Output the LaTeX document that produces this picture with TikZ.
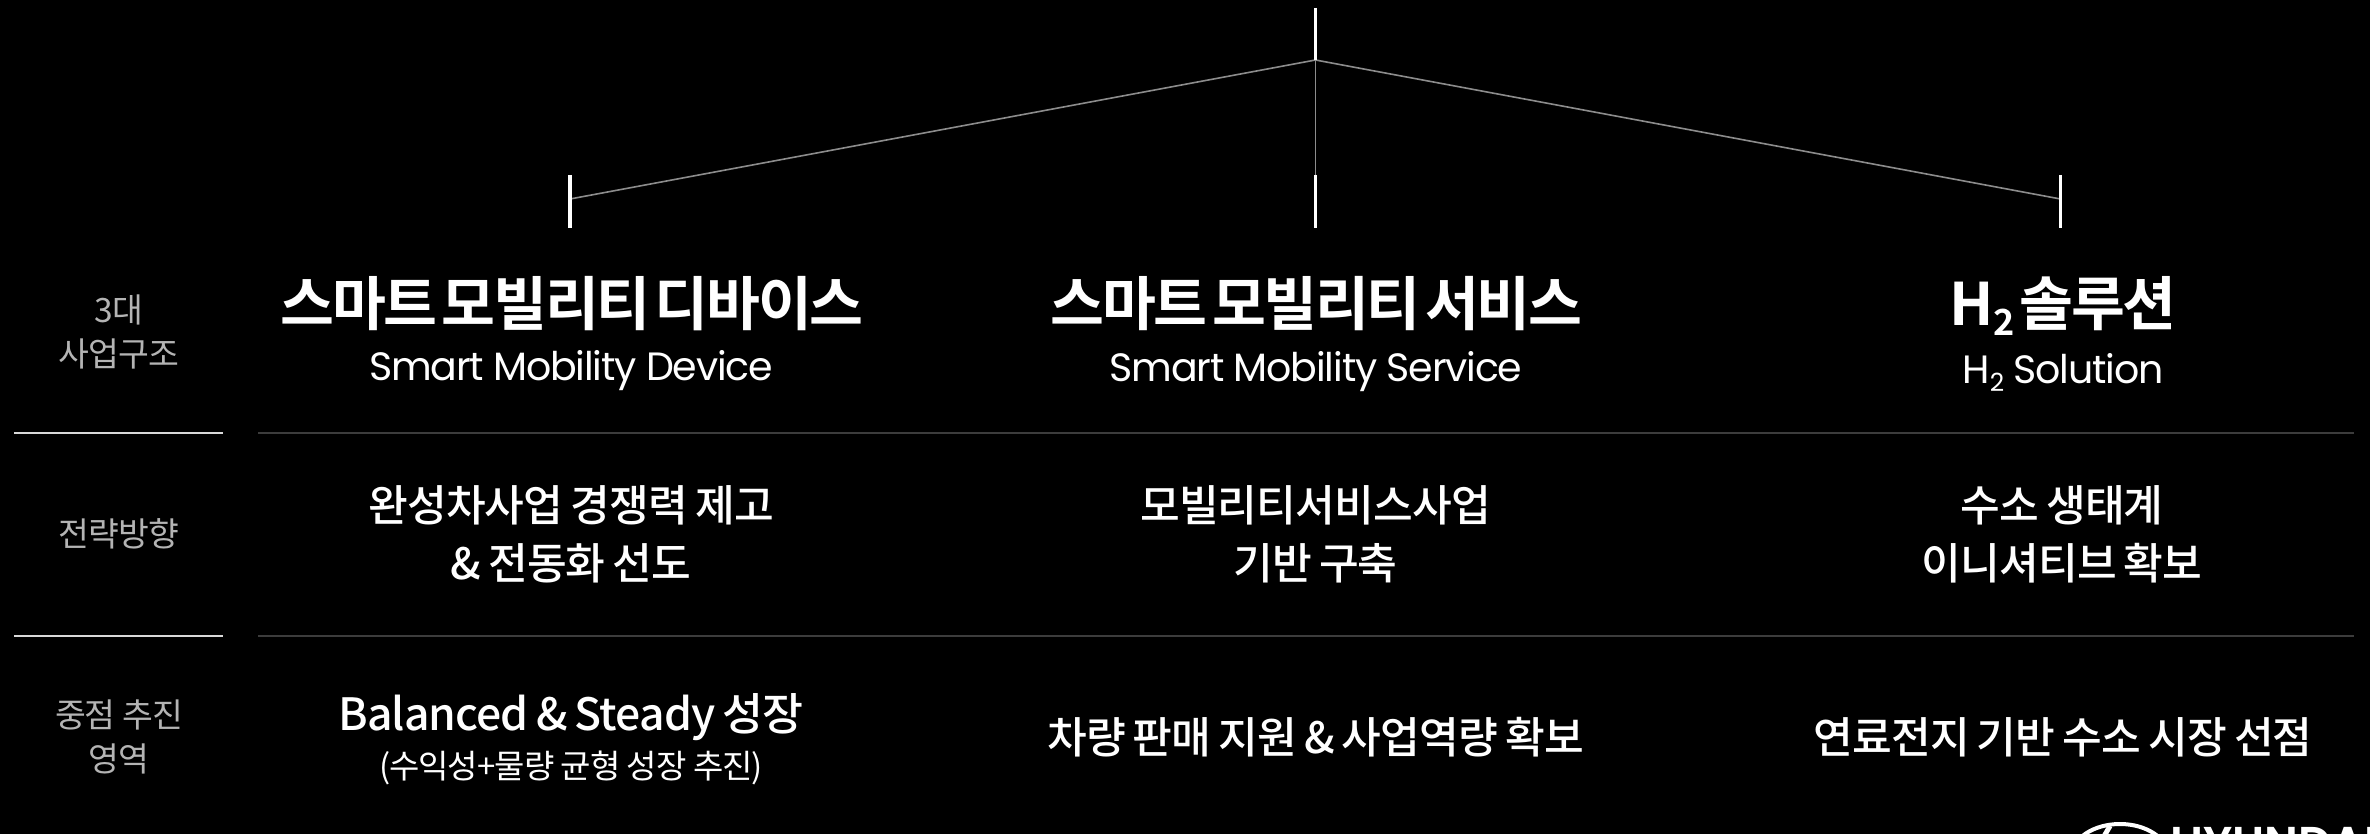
\documentclass[tikz,border=0pt]{standalone}
\usepackage{fontspec}
\setmainfont{Noto Sans CJK KR}
\newfontfamily\krl[LetterSpace=-3]{Noto Sans CJK KR}
\newfontfamily\krb[LetterSpace=-4,WordSpace=0.4]{Noto Sans CJK KR Bold}
\newfontfamily\krm[LetterSpace=-2,WordSpace=0.8]{Noto Sans CJK KR Medium}
\newfontfamily\lat[LetterSpace=-3]{Poppins}
\newfontfamily\logofont{Poppins SemiBold}
\definecolor{sidegray}{HTML}{B4B4B4}
\definecolor{ruledim}{HTML}{3C3C3C}
\definecolor{conn}{HTML}{8C8C8C}
\tikzset{
 x=1pt,y=-1pt,
 every node/.style={inner sep=0pt,outer sep=0pt,text=white,align=center},
 head/.style={font=\krb\fontsize{58.6}{66}\selectfont},
 sub/.style={font=\lat\fontsize{39.5}{44}\selectfont},
 body/.style={font=\krm\fontsize{43.2}{58}\selectfont},
 side/.style={font=\krl\fontsize{33.5}{44}\selectfont,text=sidegray},
 tick/.style={draw=white,line width=3.5pt},
 connline/.style={draw=conn,line width=1.6pt},
 siderule/.style={draw=white!85!black,line width=2pt},
 mainrule/.style={draw=ruledim,line width=1.6pt},
}
\begin{document}
\begin{tikzpicture}
\useasboundingbox[fill=black] (0,0) rectangle (2370,834);
% connectors
\coordinate (top) at (1315.5,8);
\coordinate (hub) at (1315.5,60);
\coordinate (lt) at (570,175); \coordinate (lb) at (570,228);
\coordinate (ct) at (1315.5,175); \coordinate (cb) at (1315.5,228);
\coordinate (rt) at (2060.5,175); \coordinate (rb) at (2060.5,228);
\coordinate (lj) at (570,199); \coordinate (rj) at (2060.5,199);
\draw[connline] (lj) -- (hub) -- (rj);
\draw[connline] (hub) -- (ct);
\draw[tick] (top) -- (hub);
\draw[tick] (lt) -- (lb);
\draw[tick] (ct) -- (cb);
\draw[tick] (rt) -- (rb);
% rules
\coordinate (r1a) at (14,433); \coordinate (r1b) at (223,433);
\coordinate (r1c) at (258,433); \coordinate (r1d) at (2354,433);
\coordinate (r2a) at (14,636); \coordinate (r2b) at (223,636);
\coordinate (r2c) at (258,636); \coordinate (r2d) at (2354,636);
\draw[siderule] (r1a) -- (r1b);
\draw[mainrule] (r1c) -- (r1d);
\draw[siderule] (r2a) -- (r2b);
\draw[mainrule] (r2c) -- (r2d);
% side labels
\node[side] (s1) at (119,331.5) {3대\\사업구조};
\node[side] (s2) at (119,534) {전략방향};
\node[side] (s3) at (119,737) {중점 추진\\영역};
% column heads
\node[head] (h1) at (572,304) {스마트 모빌리티 디바이스};
\node[head] (h2) at (1316.5,304) {스마트 모빌리티 서비스};
\node[head] (h3) at (2063,306) {H\raisebox{-10pt}{\fontsize{36}{36}\selectfont 2} 솔루션};
\node[sub] (u1) at (571,371) {Smart Mobility Device};
\node[sub] (u2) at (1316,372) {Smart Mobility Service};
\node[sub] (u3) at (2063,372) {H\raisebox{-8pt}{\fontsize{25}{25}\selectfont 2} Solution};
% strategic
\node[body] (b1) at (571,534) {완성차사업 경쟁력 제고\\\& 전동화 선도};
\node[body] (b2) at (1315.5,534) {모빌리티서비스사업\\기반 구축};
\node[body] (b3) at (2062,534) {수소 생태계\\이니셔티브 확보};
% focus
\node[body,font=\krm\fontsize{44.5}{58}\selectfont] (f1) at (571,717) {Balanced \& Steady 성장};
\node[font=\krl\fontsize{33}{36}\selectfont] (f1b) at (571,768) {(수익성+물량 균형 성장 추진)};
\node[body] (f2) at (1315.5,737) {차량 판매 지원 \& 사업역량 확보};
\node[body] (f3) at (2063,737) {연료전지 기반 수소 시장 선점};
% logo clipped at the picture's lower edge
\begin{scope}
\clip (2060,810) rectangle (2370,834);
\draw[white,line width=4pt] (2120,856) ellipse (48 and 32);
\draw[white,line width=5pt] (2110,826) -- (2096,850);
\node[font=\logofont\fontsize{46}{46}\selectfont,anchor=base west,text=white] (logo) at (2170,859) {HYUNDAI};
\end{scope}
\end{tikzpicture}
\end{document}
